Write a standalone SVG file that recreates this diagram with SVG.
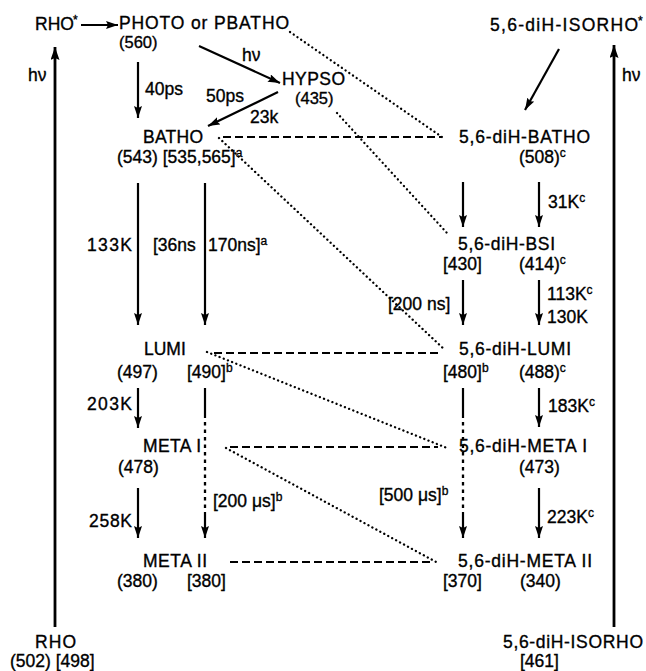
<svg xmlns="http://www.w3.org/2000/svg" width="646" height="671" viewBox="0 0 646 671">
<defs>
<marker id="ah" markerUnits="userSpaceOnUse" markerWidth="13" markerHeight="8" refX="12" refY="4" orient="auto"><path d="M0,0 L12,4 L0,8 L2,4 z" fill="#000"/></marker>
<marker id="ahb" markerUnits="userSpaceOnUse" markerWidth="14" markerHeight="9" refX="13" refY="4.5" orient="auto"><path d="M0,0 L13,4.5 L0,9 L2,4.5 z" fill="#000"/></marker>
</defs>
<style>
text{font-family:"Liberation Sans",Arial,Helvetica,sans-serif;font-size:17.5px;fill:#000;stroke:#000;stroke-width:0.35}
.sup{font-size:12px}
.sm{font-size:16.5px}
.a{stroke:#000;stroke-width:2.2;fill:none;marker-end:url(#ah)}
.s{stroke:#000;stroke-width:2.2;fill:none}
.big{stroke:#000;stroke-width:2.8;fill:none;marker-end:url(#ahb)}
.dash{stroke:#000;stroke-width:2.2;stroke-dasharray:8 4;fill:none}
.dot{stroke:#000;stroke-width:2.3;stroke-dasharray:0.1 4.4;stroke-linecap:round;fill:none}
.dd{stroke:#000;stroke-width:2.3;stroke-dasharray:3.5 4;fill:none}
</style>
<rect width="646" height="671" fill="#fff"/>

<g id="connectors">
  <line class="a" x1="81" y1="25" x2="118" y2="25"/>
  <line class="big" x1="55" y1="627" x2="55" y2="47"/>
  <line class="big" x1="614" y1="627" x2="614" y2="45"/>
  <line class="a" x1="138" y1="62" x2="138" y2="118"/>
  <line class="a" x1="199" y1="46" x2="280" y2="83"/>
  <line class="a" x1="278" y1="92" x2="208" y2="126"/>
  <line class="a" x1="138" y1="183" x2="138" y2="325"/>
  <line class="a" x1="205" y1="183" x2="205" y2="325"/>
  <line class="a" x1="138" y1="388" x2="138" y2="428"/>
  <line class="a" x1="138" y1="488" x2="138" y2="538"/>
  <g id="c-lumi-metaii">
    <line class="s" x1="205" y1="388" x2="205" y2="418"/>
    <line class="dd" x1="205" y1="422" x2="205" y2="512"/>
    <line class="a" x1="205" y1="512" x2="205" y2="538"/>
  </g>
  <line class="a" x1="559" y1="49" x2="525" y2="110"/>
  <line class="a" x1="463" y1="182" x2="463" y2="227"/>
  <line class="a" x1="539" y1="182" x2="539" y2="227"/>
  <line class="a" x1="463" y1="280" x2="463" y2="325"/>
  <line class="a" x1="539" y1="280" x2="539" y2="325"/>
  <g id="c-dlumi-dmetaii">
    <line class="s" x1="463" y1="388" x2="463" y2="418"/>
    <line class="dd" x1="463" y1="422" x2="463" y2="512"/>
    <line class="a" x1="463" y1="512" x2="463" y2="538"/>
  </g>
  <line class="a" x1="539" y1="388" x2="539" y2="427"/>
  <line class="a" x1="539" y1="488" x2="539" y2="538"/>
  <line class="dash" x1="223" y1="137" x2="442" y2="137"/>
  <line class="dash" x1="214" y1="353" x2="442" y2="353"/>
  <line class="dash" x1="230" y1="447" x2="438" y2="447"/>
  <line class="dash" x1="230" y1="562" x2="432" y2="562"/>
  <line class="dot" x1="290" y1="32" x2="442" y2="137"/>
  <line class="dot" x1="337" y1="113" x2="447" y2="233"/>
  <line class="dot" x1="219" y1="138" x2="445" y2="350"/>
  <line class="dot" x1="207" y1="352" x2="447" y2="448"/>
  <line class="dot" x1="226" y1="448" x2="438" y2="563"/>
</g>

<g id="rho-star"><text x="35" y="30">RHO</text><text x="73" y="24" class="sup">*</text></g>
<g id="photo"><text x="119" y="29" textLength="170" lengthAdjust="spacing">PHOTO or PBATHO</text><text x="119" y="48" class="sm">(560)</text></g>
<g id="hypso"><text x="282" y="84.5" textLength="63" lengthAdjust="spacing">HYPSO</text><text x="295" y="103.5" class="sm">(435)</text></g>
<g id="batho"><text x="143" y="143" textLength="60" lengthAdjust="spacing">BATHO</text><text x="117" y="163">(543) [535,565]<tspan class="sup" dy="-6">a</tspan></text></g>
<g id="lumi"><text x="144" y="355">LUMI</text><text x="117" y="378">(497)</text><text x="187" y="378">[490]<tspan class="sup" dy="-6">b</tspan></text></g>
<g id="meta-i"><text x="143" y="452" textLength="58" lengthAdjust="spacing">META I</text><text x="118" y="473">(478)</text></g>
<g id="meta-ii"><text x="143" y="567" textLength="64" lengthAdjust="spacing">META II</text><text x="117" y="587">(380)</text><text x="187" y="587">[380]</text></g>
<g id="rho"><text x="35" y="648" textLength="41" lengthAdjust="spacing">RHO</text><text x="10" y="667">(502)  [498]</text></g>

<g id="isorho-star"><text x="490" y="31" textLength="148" lengthAdjust="spacing">5,6-diH-ISORHO</text><text x="638" y="25" class="sup">*</text></g>
<g id="d-batho"><text x="459" y="143" textLength="131" lengthAdjust="spacing">5,6-diH-BATHO</text><text x="519" y="163">(508)<tspan class="sup" dy="-6">c</tspan></text></g>
<g id="d-bsi"><text x="458" y="250" textLength="97" lengthAdjust="spacing">5,6-diH-BSI</text><text x="443" y="270">[430]</text><text x="519" y="270">(414)<tspan class="sup" dy="-6">c</tspan></text></g>
<g id="d-lumi"><text x="459" y="355" textLength="112" lengthAdjust="spacing">5,6-diH-LUMI</text><text x="443" y="378">[480]<tspan class="sup" dy="-6">b</tspan></text><text x="519" y="378">(488)<tspan class="sup" dy="-6">c</tspan></text></g>
<g id="d-meta-i"><text x="459" y="452" textLength="128" lengthAdjust="spacing">5,6-diH-META I</text><text x="519" y="473">(473)</text></g>
<g id="d-meta-ii"><text x="458" y="567" textLength="134" lengthAdjust="spacing">5,6-diH-META II</text><text x="443" y="587">[370]</text><text x="520" y="587">(340)</text></g>
<g id="d-isorho"><text x="503" y="648" textLength="140" lengthAdjust="spacing">5,6-diH-ISORHO</text><text x="520" y="667">[461]</text></g>

<g id="labels">
  <text x="28" y="81">hν</text>
  <text x="622" y="81">hν</text>
  <text x="242" y="61">hν</text>
  <text x="145" y="95">40ps</text>
  <text x="206" y="102">50ps</text>
  <text x="250" y="123">23k</text>
  <text x="87" y="251" textLength="45" lengthAdjust="spacing">133K</text>
  <text x="153" y="251">[36ns</text>
  <text x="208" y="251">170ns]<tspan class="sup" dy="-6">a</tspan></text>
  <text x="87" y="410" textLength="45" lengthAdjust="spacing">203K</text>
  <text x="89" y="527" textLength="43" lengthAdjust="spacing">258K</text>
  <text x="213" y="507">[200 μs]<tspan class="sup" dy="-6">b</tspan></text>
  <text x="548" y="208">31K<tspan class="sup" dy="-6">c</tspan></text>
  <text x="388" y="310">[200 ns]</text>
  <text x="547" y="300">113K<tspan class="sup" dy="-6">c</tspan></text>
  <text x="547" y="323">130K</text>
  <text x="548" y="412">183K<tspan class="sup" dy="-6">c</tspan></text>
  <text x="379" y="501">[500 μs]<tspan class="sup" dy="-6">b</tspan></text>
  <text x="547" y="523">223K<tspan class="sup" dy="-6">c</tspan></text>
</g>
</svg>
